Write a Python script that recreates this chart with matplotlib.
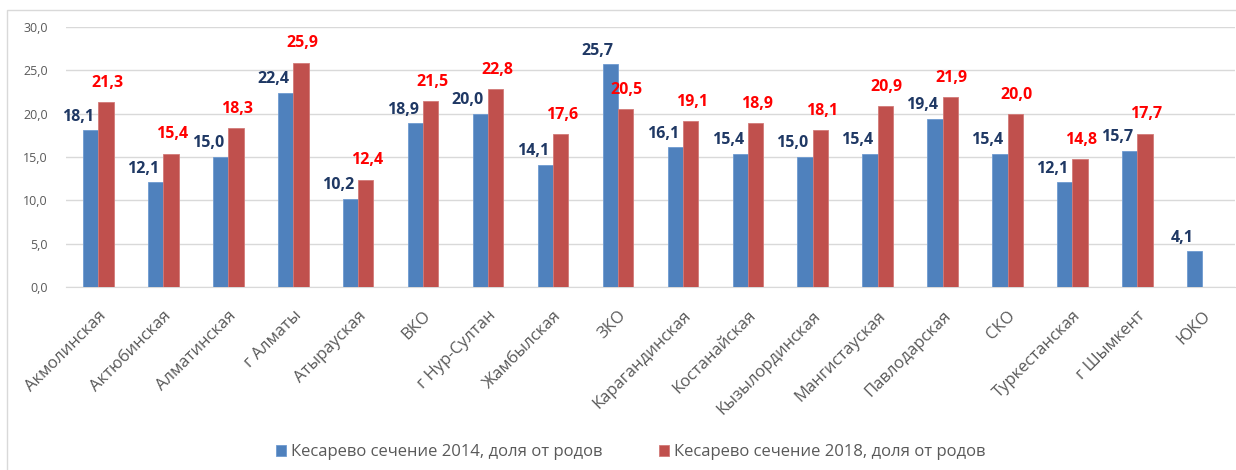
import numpy as np
import matplotlib.pyplot as plt
from matplotlib.patches import Rectangle

plt.rcParams['font.family'] = ['Open Sans', 'DejaVu Sans']

regions = ['Акмолинская', 'Актюбинская', 'Алматинская', 'г Алматы', 'Атырауская',
           'ВКО', 'г Нур-Султан', 'Жамбылская', 'ЗКО', 'Карагандинская',
           'Костанайская', 'Кызылординская', 'Мангистауская', 'Павлодарская',
           'СКО', 'Туркестанская', 'г Шымкент', 'ЮКО']
cs_2014 = [18.1, 12.1, 15.0, 22.4, 10.2, 18.9, 20.0, 14.1, 25.7, 16.1,
           15.4, 15.0, 15.4, 19.4, 15.4, 12.1, 15.7, 4.1]
cs_2018 = [21.3, 15.4, 18.3, 25.9, 12.4, 21.5, 22.8, 17.6, 20.5, 19.1,
           18.9, 18.1, 20.9, 21.9, 20.0, 14.8, 17.7, np.nan]
legend_labels = ['Кесарево сечение 2014, доля от родов',
                 'Кесарево сечение 2018, доля от родов']

blue = '#4F81BD'
red = '#C0504D'
grey = '#595959'

fig = plt.figure(figsize=(12.36, 4.70), dpi=100)
ax = fig.add_axes([0.0534, 0.3894, 0.9456, 0.5532])

x = np.arange(len(regions))
w = 0.235
b1 = ax.bar(x - w / 2, cs_2014, w, color=blue, edgecolor='#6F9BD1', linewidth=0.6,
            label=legend_labels[0], zorder=3)
b2 = ax.bar(x + w / 2, cs_2018, w, color=red, edgecolor='#D27A78', linewidth=0.6,
            label=legend_labels[1], zorder=3)

# data labels: blue shifted left, red above the bar
for xi, v in zip(x, cs_2014):
    ax.annotate(f'{v:.1f}'.replace('.', ','), (xi - w / 2, v), xytext=(-9, 4),
                textcoords='offset points', ha='center', va='bottom',
                fontsize=11.5, fontweight='bold', color='#1F3864')
for xi, v in zip(x, cs_2018):
    if np.isnan(v):
        continue
    ax.annotate(f'{v:.1f}'.replace('.', ','), (xi + w / 2, v), xytext=(1, 8),
                textcoords='offset points', ha='center', va='bottom',
                fontsize=11.5, fontweight='bold', color='#FF0000')

ax.set_xlim(-0.5, len(regions) - 0.5)
ax.set_ylim(0, 30)
ax.set_yticks(np.arange(0, 31, 5))
ax.set_yticklabels([f'{t:.1f}'.replace('.', ',') for t in np.arange(0, 31, 5)],
                   fontsize=9, color=grey)
ax.set_xticks(x)
ax.set_xticklabels(regions, rotation=45, ha='right', rotation_mode='anchor',
                   fontsize=12, color=grey)
ax.tick_params(axis='both', length=0)
ax.tick_params(axis='y', pad=13)
ax.tick_params(axis='x', pad=15)
ax.grid(axis='y', color='#D9D9D9', linewidth=1, zorder=0)
for s in ['top', 'right', 'left']:
    ax.spines[s].set_visible(False)
ax.spines['bottom'].set_color('#D9D9D9')

fig.legend(handles=[b1, b2], loc='center', bbox_to_anchor=(0.51, 0.038),
           ncol=2, frameon=False, fontsize=12, labelcolor=grey,
           handlelength=0.6, handleheight=0.6, handletextpad=0.3, columnspacing=3.4)

# outer chart border
fig.add_artist(Rectangle((7 / 1236, -0.01), 1.0, 1 - 10 / 470 + 0.01, transform=fig.transFigure,
                         fill=False, edgecolor='#D9D9D9', linewidth=1))

fig.savefig('out.png', dpi=100)
